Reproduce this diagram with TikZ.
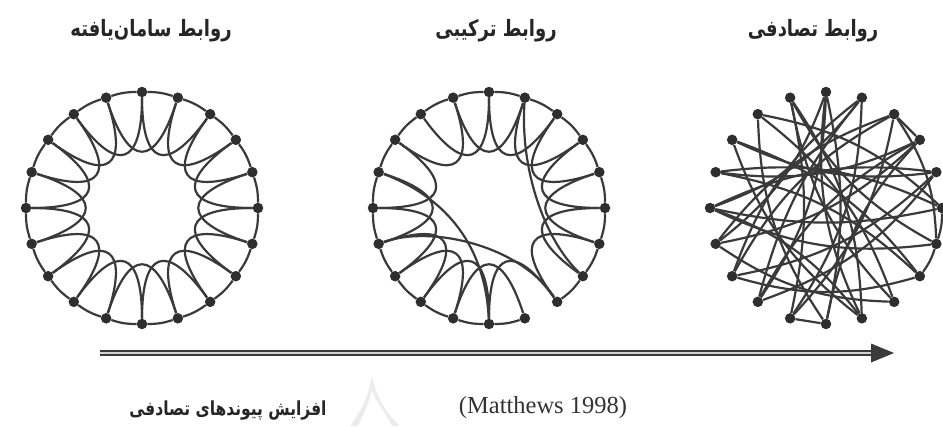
\documentclass[tikz,border=0pt]{standalone}
\usepackage{fontspec}
\usepackage{graphicx}
\setmainfont{Liberation Serif}
\newfontfamily\fa[Script=Arabic]{DejaVu Sans}
\TeXXeTstate=1
\usetikzlibrary{calc}
\definecolor{ink}{HTML}{3A3A3A}
\definecolor{dotc}{HTML}{2E2E2E}
\newcommand{\tallfa}[1]{\scalebox{1}[1.25]{#1}}
\begin{document}
\begin{tikzpicture}[x=1pt,y=-1pt,
  link/.style={draw=ink,line width=2.2pt},
  dot/.style={circle,fill=dotc,draw=none,inner sep=0pt,minimum size=10.5pt},
  title/.style={font=\fa\bfseries\fontsize{18}{20}\selectfont,text=black!85},
  subtitle/.style={font=\fa\bfseries\fontsize{15.5}{18}\selectfont,text=black!85},
  cite/.style={font=\fontsize{24.5}{27}\selectfont,text=black!80}]
\useasboundingbox (0,0) rectangle (943,426);
% watermark
\fill[gray!15] (372,376) .. controls (368,400) and (358,415) .. (350,426) -- (358,426)
  .. controls (365,412) and (370,400) .. (372,390) .. controls (375,400) and (385,412) .. (392,426)
  -- (400,426) .. controls (388,415) and (377,400) .. (372,376) -- cycle;
\coordinate (Lc) at (142,208);
\coordinate (Mc) at (489,208);
\coordinate (Rc) at (826,208);
\foreach \p in {L,M,R}{
  \foreach \i in {0,...,19}{
    \node[dot] (\p\i) at ($(\p c)+({-90+18*\i}:116)$) {};
  }
}
% regular ring
\foreach \i in {0,...,19}{
  \pgfmathtruncatemacro\j{mod(\i+1,20)}
  \pgfmathtruncatemacro\k{mod(\i+2,20)}
  \draw[link] (L\i) to[bend left=9] (L\j);
  \draw[link] (L\i) .. controls ($(Lc)+({-90+18*\i}:42)$) and ($(Lc)+({-90+18*\k}:42)$) .. (L\k);
}
% small-world ring
\foreach \i in {0,...,19}{
  \pgfmathtruncatemacro\j{mod(\i+1,20)}
  \pgfmathtruncatemacro\k{mod(\i+2,20)}
  \ifnum\i=8 \else \draw[link] (M\i) to[bend left=9] (M\j); \fi
  \ifnum\i=7 \else \ifnum\i=16 \else
    \draw[link] (M\i) .. controls ($(Mc)+({-90+18*\i}:42)$) and ($(Mc)+({-90+18*\k}:42)$) .. (M\k);
  \fi\fi
}
\draw[link] (M1) .. controls (520,170) and (545,240) .. (M7);
\draw[link] (M14) .. controls (430,225) and (520,245) .. (M8);
\draw[link] (M16) .. controls (440,195) and (485,240) .. (M10);
% random ring
\foreach \a/\b/\c in {2/3/0, 5/6/9, 6/7/9, 10/11/0,
  0/12/16, 0/9/-16, 0/14/16, 0/10/12,
  1/11/16, 1/13/-16, 1/15/16, 1/12/-12,
  19/8/-16, 19/9/16, 19/6/-16, 19/11/12,
  18/8/16, 18/10/-16, 18/5/16,
  17/4/-16, 17/7/16, 17/9/-16,
  16/5/16, 16/3/-16, 16/7/16,
  15/4/16, 15/6/-16, 15/9/16, 15/5/-12,
  14/3/-16, 14/2/16, 14/8/-16,
  13/4/-16, 13/2/16, 13/7/-16,
  12/3/16, 12/4/-16,
  11/2/-16, 10/3/16, 6/2/-16}{
  \draw[link] (R\a) to[bend left=\c] (R\b);
}
% arrow
\coordinate (aS) at (100,353);
\coordinate (aE) at (894,353);
\coordinate (aB) at (871,353);
\draw[draw=ink,line width=2.2pt,double=gray!35,double distance=1.6pt] (aS) -- (aB);
\fill[ink] (aE) -- ($(aB)+(0,-9.5)$) -- ($(aB)+(0,9.5)$) -- cycle;
% texts
\node[title] (t1) at (151,31) {\tallfa{\beginR روابط سامان‌یافته\endR}};
\node[title] (t2) at (496,31) {\tallfa{\beginR روابط ترکیبی\endR}};
\node[title] (t3) at (813,31) {\tallfa{\beginR روابط تصادفی\endR}};
\node[subtitle] (b1) at (228,410) {\tallfa{\beginR افزایش پیوندهای تصادفی\endR}};
\node[cite] (b2) at (543,408) {(Matthews 1998)};
\end{tikzpicture}
\end{document}
